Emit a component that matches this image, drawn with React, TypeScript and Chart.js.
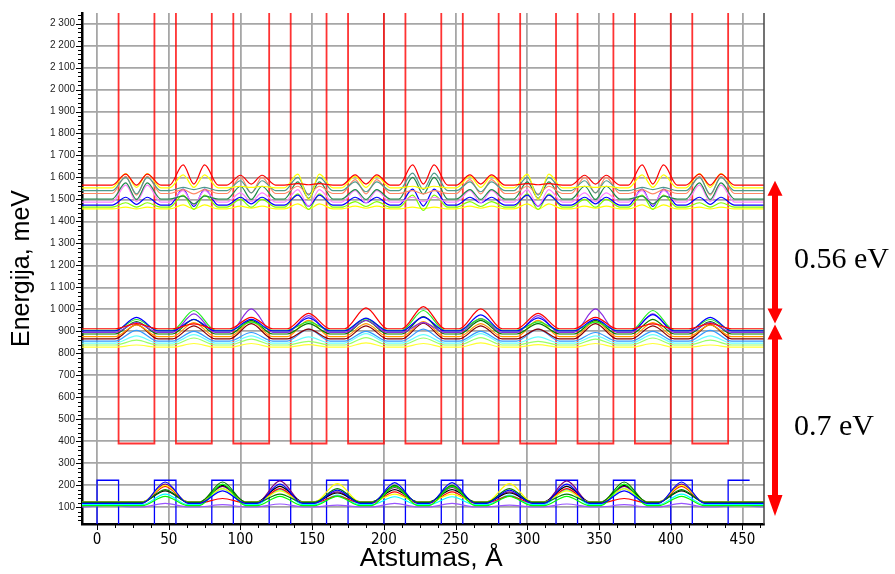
import React, { useEffect, useRef } from "react";
import { Chart, registerables } from "chart.js";

Chart.register(...registerables);

// ---------- axes ----------
const xMin = -10.5;
const xMax = 465;
const yMin = 24;
const yMax = 2348;
const xTickValues = [0, 50, 100, 150, 200, 250, 300, 350, 400, 450];
const yTickValues = [100, 200, 300, 400, 500, 600, 700, 800, 900, 1000, 1100, 1200, 1300, 1400, 1500, 1600, 1700, 1800, 1900, 2000, 2100, 2200, 2300];
const xTitle = "Atstumas, Å";
const yTitle = "Energija, meV";

// ---------- potential profiles (Å, meV) ----------
const wellLeft = [15, 55, 95, 135, 175, 215, 255, 295, 335, 375, 415];
const wellRight = [40, 80, 120, 160, 200, 240, 280, 320, 360, 400, 440];
const barrierLeft = [0, 40, 80, 120, 160, 200, 240, 280, 320, 360, 400, 440];
const barrierRight = [15, 55, 95, 135, 175, 215, 255, 295, 335, 375, 415, 455];
const cbWellEnergy = 390;
const cbBarrierEnergy = 2900;
const vbBarrierEnergy = 223;
const vbWellEnergy = -100;

// ---------- middle band (peaks at well centres) ----------
const wellCenters = [27.5, 67.5, 107.5, 147.5, 187.5, 227.5, 267.5, 307.5, 347.5, 387.5, 427.5];
const midRed = [935, 934, 964, 982, 1007, 1013, 1002, 982, 964, 934, 935];
const midBlue = [964, 954, 955, 961, 960, 965, 975, 961, 955, 976, 964];
const midLime = [954, 995, 942, 943, 957, 995, 957, 943, 942, 995, 954];
const midPurple = [940, 980, 1002, 972, 950, 940, 958, 972, 1002, 980, 940];
const midDarkGreen = [945, 955, 950, 935, 950, 967, 950, 935, 950, 955, 945];
const midOrange = [930, 940, 945, 950, 935, 945, 935, 950, 945, 940, 930];
const midMaroon = [931, 925, 935, 910, 925, 937, 925, 910, 935, 925, 931];
const midDodger = [905, 900, 895, 910, 900, 910, 900, 910, 895, 900, 905];
const midCyan = [880, 885, 880, 875, 890, 885, 890, 875, 880, 885, 880];
const midLightGreen = [860, 870, 865, 855, 872, 870, 872, 855, 865, 870, 860];
const midYellow = [838, 845, 845, 840, 848, 845, 848, 840, 845, 845, 838];
const midBases = [912, 902, 905, 895, 888, 876, 866, 856, 847, 838, 828];

// ---------- top band (double peaks in wells) ----------
const topRedPeaks = [1615, 1657, 1610, 1572, 1612, 1657, 1612, 1572, 1610, 1657, 1615];
const topRedDips = [1565, 1570, 1570, 1567, 1570, 1570, 1570, 1567, 1570, 1570, 1565];
const topYellowPeaks = [1618, 1612, 1560, 1615, 1605, 1560, 1605, 1615, 1560, 1612, 1618];
const topYellowDips = [1555, 1555, 1555, 1500, 1555, 1550, 1555, 1500, 1555, 1555, 1555];
const topTealPeaks = [1600, 1555, 1585, 1600, 1580, 1620, 1580, 1600, 1585, 1555, 1600];
const topTealDips = [1525, 1545, 1530, 1520, 1535, 1545, 1535, 1520, 1530, 1545, 1525];
const topSalmonPeaks = [1605, 1545, 1600, 1560, 1590, 1540, 1590, 1560, 1600, 1545, 1605];
const topSalmonDips = [1520, 1525, 1530, 1525, 1525, 1525, 1525, 1525, 1530, 1525, 1520];
const topSeaGreenPeaks = [1575, 1515, 1560, 1580, 1545, 1600, 1545, 1580, 1560, 1515, 1575];
const topSeaGreenDips = [1500, 1480, 1500, 1505, 1500, 1525, 1500, 1505, 1500, 1480, 1500];
const topVioletPeaks = [1565, 1540, 1530, 1545, 1540, 1510, 1540, 1545, 1530, 1540, 1565];
const topVioletDips = [1490, 1475, 1490, 1470, 1485, 1490, 1485, 1470, 1490, 1475, 1490];
const topBluePeaks = [1510, 1547, 1510, 1520, 1510, 1547, 1510, 1520, 1510, 1547, 1510];
const topBlueDips = [1478, 1468, 1480, 1470, 1485, 1470, 1485, 1470, 1480, 1468, 1478];
const topLawnPeaks = [1485, 1520, 1500, 1525, 1490, 1520, 1490, 1525, 1500, 1520, 1485];
const topLawnDips = [1465, 1455, 1465, 1455, 1468, 1450, 1468, 1455, 1465, 1455, 1465];
const topYellow2Peaks = [1465, 1475, 1470, 1480, 1470, 1465, 1470, 1480, 1470, 1475, 1465];
const topYellow2Dips = [1457, 1457, 1460, 1455, 1460, 1458, 1460, 1455, 1460, 1457, 1457];
const topBases = [1565, 1553, 1540, 1527, 1502, 1488, 1474, 1465, 1457];

// ---------- bottom band (peaks at barrier centres) ----------
const barrierCenters = [7.5, 47.5, 87.5, 127.5, 167.5, 207.5, 247.5, 287.5, 327.5, 367.5, 407.5, 447.5];
const botBlue = [118, 215, 175, 205, 178, 212, 212, 178, 205, 175, 215, 118];
const botDarkGreen = [122, 180, 215, 160, 185, 200, 200, 185, 160, 215, 180, 122];
const botLime = [108, 150, 205, 150, 150, 195, 195, 150, 150, 205, 150, 108];
const botYellow = [124, 200, 185, 175, 208, 160, 160, 208, 175, 185, 200, 124];
const botRed = [120, 195, 140, 185, 151, 170, 170, 151, 185, 140, 195, 120];
const botBlack = [125, 175, 200, 195, 165, 180, 180, 165, 195, 200, 175, 125];
const botCyan = [112, 160, 185, 180, 155, 148, 148, 155, 180, 185, 160, 112];
const botPurple = [121, 205, 195, 220, 170, 190, 190, 170, 220, 195, 205, 121];
const botViolet = [110, 118, 112, 115, 110, 118, 118, 110, 115, 112, 118, 110];
const botBases = [118, 122, 108, 124, 120, 125, 112, 121, 102];

// ---------- annotations ----------
const gapArrowTop = 1585;
const gapArrowMid = 936;
const gapArrowBottom = 60;
const gapLabelUpper = "0.56 eV";
const gapLabelLower = "0.7 eV";
const gapLabelUpperE = 1188;
const gapLabelLowerE = 428;

type Pt = { x: number; y: number };

function cbProfile(): Pt[] {
  const pts: Pt[] = [];
  wellLeft.forEach((l, i) => {
    const r = wellRight[i];
    pts.push({ x: l, y: cbBarrierEnergy }, { x: l, y: cbWellEnergy }, { x: r, y: cbWellEnergy }, { x: r, y: cbBarrierEnergy });
  });
  return pts;
}

function vbProfile(): Pt[] {
  const pts: Pt[] = [];
  barrierLeft.forEach((l, i) => {
    const r = barrierRight[i];
    pts.push({ x: l, y: vbWellEnergy }, { x: l, y: vbBarrierEnergy }, { x: r, y: vbBarrierEnergy });
    if (i < barrierLeft.length - 1) pts.push({ x: r, y: vbWellEnergy });
  });
  return pts;
}

function bumpPoints(centers: number[], half: number, base: number, peaks: number[]): Pt[] {
  const pts: Pt[] = [{ x: xMin, y: base }];
  centers.forEach((c, i) => {
    pts.push({ x: c - half, y: base }, { x: c, y: peaks[i] }, { x: c + half, y: base });
  });
  pts.push({ x: xMax, y: base });
  return pts;
}

function doublePoints(centers: number[], base: number, peaks: number[], dips: number[]): Pt[] {
  const pts: Pt[] = [{ x: xMin, y: base }];
  centers.forEach((c, i) => {
    pts.push(
      { x: c - 17, y: base },
      { x: c - 7.5, y: peaks[i] },
      { x: c, y: dips[i] },
      { x: c + 7.5, y: peaks[i] },
      { x: c + 17, y: base }
    );
  });
  pts.push({ x: xMax, y: base });
  return pts;
}

function curve(data: Pt[], color: string) {
  return {
    data,
    borderColor: color,
    backgroundColor: color,
    borderWidth: 1.2,
    pointRadius: 0,
    fill: false,
    cubicInterpolationMode: "monotone" as const,
  };
}

const midSeries: [number[], string][] = [
  [midRed, "#ff0000"],
  [midBlue, "#0000ff"],
  [midLime, "#22ee22"],
  [midPurple, "#8a2be2"],
  [midDarkGreen, "#008000"],
  [midOrange, "#ff9a00"],
  [midMaroon, "#8b0000"],
  [midDodger, "#3399ff"],
  [midCyan, "#66ffff"],
  [midLightGreen, "#99ff66"],
  [midYellow, "#ffff33"],
];

const topSeries: [number[], number[], string][] = [
  [topRedPeaks, topRedDips, "#ff0000"],
  [topYellowPeaks, topYellowDips, "#ffff00"],
  [topTealPeaks, topTealDips, "#4f9a8c"],
  [topSalmonPeaks, topSalmonDips, "#ff8866"],
  [topSeaGreenPeaks, topSeaGreenDips, "#1f8a4a"],
  [topVioletPeaks, topVioletDips, "#ff80ff"],
  [topBluePeaks, topBlueDips, "#0000ff"],
  [topLawnPeaks, topLawnDips, "#80ff00"],
  [topYellow2Peaks, topYellow2Dips, "#ffff00"],
];

const botSeries: [number[], string][] = [
  [botBlue, "#0000ff"],
  [botDarkGreen, "#008000"],
  [botLime, "#00ff00"],
  [botYellow, "#ffff00"],
  [botRed, "#ff0000"],
  [botBlack, "#000000"],
  [botCyan, "#00ffff"],
  [botPurple, "#800080"],
  [botViolet, "#9955ff"],
];

function formatTick(v: number): string {
  if (v >= 1000) return `${Math.floor(v / 1000)} ${String(v % 1000).padStart(3, "0")}`;
  return String(v);
}

const decorPlugin = {
  id: "decor",
  afterDraw(chart: any) {
    const { ctx, chartArea, scales } = chart;
    const xs = scales.x;
    const ys = scales.y;
    ctx.save();
    // right frame
    ctx.strokeStyle = "#444";
    ctx.lineWidth = 1.5;
    ctx.beginPath();
    ctx.moveTo(chartArea.right, chartArea.top);
    ctx.lineTo(chartArea.right, chartArea.bottom);
    ctx.stroke();
    // ticks
    ctx.strokeStyle = "#000";
    ctx.lineWidth = 1;
    for (let v = 20; v <= 2340; v += 20) {
      if (v < yMin) continue;
      const py = Math.round(ys.getPixelForValue(v)) + 0.5;
      const len = v % 100 === 0 ? 5 : 3;
      ctx.beginPath();
      ctx.moveTo(chartArea.left - 1, py);
      ctx.lineTo(chartArea.left - 1 - len, py);
      ctx.stroke();
    }
    for (let v = 0; v <= 462.5; v += 12.5) {
      const px = Math.round(xs.getPixelForValue(v)) + 0.5;
      const len = v % 50 === 0 ? 5 : 3;
      ctx.beginPath();
      ctx.moveTo(px, chartArea.bottom + 1);
      ctx.lineTo(px, chartArea.bottom + 1 + len);
      ctx.stroke();
    }
    // x axis title
    ctx.fillStyle = "#000";
    ctx.font = '26.5px "Liberation Sans", Arial, sans-serif';
    ctx.textAlign = "center";
    ctx.textBaseline = "middle";
    ctx.fillText(xTitle, xs.getPixelForValue(233), 559);
    // gap arrows
    const ax = chartArea.right + 11;
    const yT = ys.getPixelForValue(gapArrowTop);
    const yM = ys.getPixelForValue(gapArrowMid);
    const yB = ys.getPixelForValue(gapArrowBottom);
    ctx.fillStyle = "#ff0000";
    const head = (tipY: number, dir: number, len: number) => {
      ctx.beginPath();
      ctx.moveTo(ax, tipY);
      ctx.lineTo(ax - 7.5, tipY + dir * len);
      ctx.lineTo(ax + 7.5, tipY + dir * len);
      ctx.closePath();
      ctx.fill();
    };
    head(yT, 1, 15);
    ctx.fillRect(ax - 3, yT + 14, 6, yM - 15 - (yT + 14) + 1);
    head(yM, -1, 15);
    head(yM + 1, 1, 15);
    ctx.fillRect(ax - 3, yM + 15, 6, yB - 20 - (yM + 15) + 1);
    head(yB, -1, 21);
    // labels
    ctx.fillStyle = "#000";
    ctx.font = '30px "Liberation Serif", "Times New Roman", serif';
    ctx.textAlign = "left";
    ctx.textBaseline = "alphabetic";
    ctx.fillText(gapLabelUpper, chartArea.right + 30, ys.getPixelForValue(gapLabelUpperE));
    ctx.fillText(gapLabelLower, chartArea.right + 30, ys.getPixelForValue(gapLabelLowerE));
    ctx.restore();
  },
};

export default function App() {
  const ref = useRef<HTMLCanvasElement>(null);
  useEffect(() => {
    const datasets: any[] = [];
    midSeries.forEach(([peaks, color], i) => datasets.push(curve(bumpPoints(wellCenters, 15, midBases[i], peaks), color)));
    topSeries.forEach(([peaks, dips, color], i) => datasets.push(curve(doublePoints(wellCenters, topBases[i], peaks, dips), color)));
    botSeries.forEach(([peaks, color], i) => datasets.push(curve(bumpPoints(barrierCenters, 16, botBases[i], peaks), color)));
    datasets.push({ data: cbProfile(), borderColor: "rgba(255,0,0,0.8)", borderWidth: 1.8, pointRadius: 0, tension: 0 });
    datasets.push({ data: vbProfile(), borderColor: "#0000ff", borderWidth: 1.3, pointRadius: 0, tension: 0 });

    const chart = new Chart(ref.current as HTMLCanvasElement, {
      type: "line",
      data: { datasets },
      options: {
        animation: false,
        responsive: false,
        devicePixelRatio: 1,
        layout: { padding: { top: 12, right: 131, left: 0, bottom: 0 } },
        plugins: { legend: { display: false }, tooltip: { enabled: false } },
        scales: {
          x: {
            type: "linear",
            min: xMin,
            max: xMax,
            afterBuildTicks: (s: any) => {
              s.ticks = xTickValues.map((v) => ({ value: v }));
            },
            afterFit: (s: any) => {
              s.height = 50;
            },
            grid: { color: "#a6a6a6", lineWidth: 1.8, drawTicks: false },
            border: { color: "#000", width: 2.5 },
            ticks: {
              autoSkip: false,
              maxRotation: 0,
              padding: 7,
              color: "#000",
              font: { family: '"Liberation Sans Narrow", "Arial Narrow", "DejaVu Sans Condensed", sans-serif', size: 15 },
            },
            title: { display: false, text: xTitle },
          },
          y: {
            type: "linear",
            min: yMin,
            max: yMax,
            afterBuildTicks: (s: any) => {
              s.ticks = yTickValues.map((v) => ({ value: v }));
            },
            afterFit: (s: any) => {
              s.width = 82;
            },
            grid: { color: "#a6a6a6", lineWidth: 1.8, drawTicks: false },
            border: { color: "#000", width: 2.5 },
            ticks: {
              autoSkip: false,
              padding: 7,
              color: "#222",
              font: { family: '"Liberation Sans", Arial, sans-serif', size: 10 },
              callback: (v: any) => formatTick(Number(v)),
            },
            title: {
              display: true,
              text: yTitle,
              color: "#000",
              font: { family: '"Liberation Sans", Arial, sans-serif', size: 25 },
              padding: { top: 7, bottom: 0 },
            },
          },
        },
      },
      plugins: [decorPlugin],
    });
    return () => chart.destroy();
  }, []);
  return (
    <div style={{ position: "fixed", left: 0, top: 0, width: 895, height: 574, background: "#fff" }}>
      <canvas ref={ref} width={895} height={574} style={{ display: "block" }} />
    </div>
  );
}
